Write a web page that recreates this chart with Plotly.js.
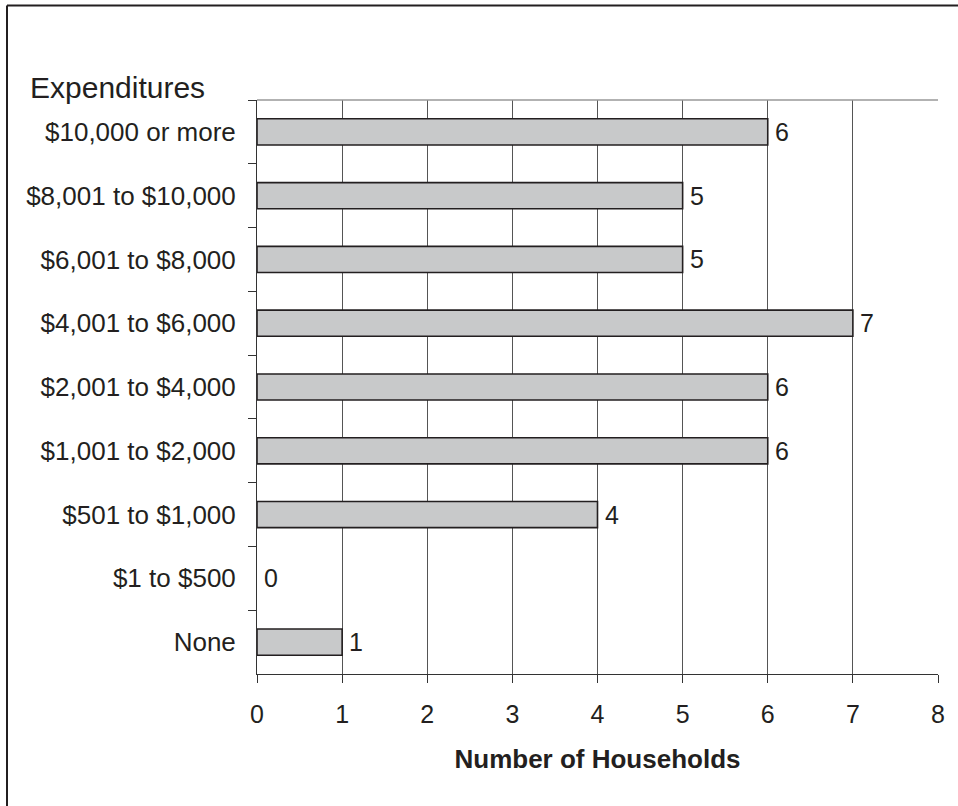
<!DOCTYPE html>
<html>
<head>
<meta charset="utf-8">
<script src="https://cdn.plot.ly/plotly-3.0.1.min.js"></script>
<style>
html,body{margin:0;padding:0;background:#fff;}
#chart{width:958px;height:806px;}
</style>
</head>
<body>
<div id="chart"></div>
<script>
// Data (top to bottom as shown)
const categories = [
  "$10,000 or more",
  "$8,001 to $10,000",
  "$6,001 to $8,000",
  "$4,001 to $6,000",
  "$2,001 to $4,000",
  "$1,001 to $2,000",
  "$501 to $1,000",
  "$1 to $500",
  "None"
];
const households = [6, 5, 5, 7, 6, 6, 4, 0, 1];
const xTickValues = [0, 1, 2, 3, 4, 5, 6, 7, 8];

const W = 958, H = 806;
const M = {l: 257, r: 20, t: 100, b: 132};
const PW = W - M.l - M.r, PH = H - M.t - M.b;
const px = x => (x - M.l) / PW;
const py = y => (H - M.b - y) / PH;

const FONT = "Liberation Sans, Arial, sans-serif";
const INK = "#231f20";

const trace = {
  type: "bar",
  orientation: "h",
  y: categories,
  x: households,
  marker: {color: "#c8c9ca", line: {color: INK, width: households.map(v => v > 0 ? 1.6 : 0)}},
  hoverinfo: "x+y"
};

const valueLabels = categories.map((c, i) => ({
  x: households[i], y: c, xref: "x", yref: "y",
  text: String(households[i]),
  xanchor: "left", yanchor: "middle", xshift: 5,
  showarrow: false,
  font: {family: FONT, size: 25, color: INK}
}));

const layout = {
  width: W, height: H,
  margin: M,
  paper_bgcolor: "#fff",
  plot_bgcolor: "#fff",
  showlegend: false,
  bargap: 0.59,
  font: {family: FONT, size: 25, color: INK},
  xaxis: {
    range: [0, 8],
    tickvals: xTickValues,
    showgrid: true, gridcolor: "#555", gridwidth: 1,
    zeroline: false,
    showline: true, linecolor: "#333", linewidth: 1,
    ticks: "outside", ticklen: 8, tickcolor: "#333",
    tickfont: {family: FONT, size: 25, color: INK},
    ticklabelstandoff: 10,
    title: {text: "<b>Number of Households</b>", font: {family: FONT, size: 26, color: INK}, standoff: 22}
  },
  yaxis: {
    type: "category",
    autorange: "reversed",
    showgrid: false,
    zeroline: false,
    showline: true, linecolor: "#333", linewidth: 1,
    ticks: "outside", ticklen: 8, tickcolor: "#333",
    tickson: "boundaries",
    tickfont: {family: FONT, size: 26, color: INK},
    ticklabelstandoff: 15
  },
  shapes: [
    {type: "line", xref: "paper", yref: "paper", x0: 0, x1: 1, y0: 1, y1: 1, line: {color: "#999", width: 1.5}},
    {type: "line", xref: "paper", yref: "paper", x0: px(7), x1: px(958), y0: py(5.5), y1: py(5.5), line: {color: INK, width: 2}},
    {type: "line", xref: "paper", yref: "paper", x0: px(7), x1: px(7), y0: py(5.5), y1: py(806), line: {color: INK, width: 2}}
  ],
  annotations: valueLabels.concat([{
    xref: "paper", yref: "paper", x: px(28), y: py(87),
    xanchor: "left", yanchor: "middle", showarrow: false,
    text: "Expenditures",
    font: {family: FONT, size: 30, color: INK}
  }])
};

Plotly.newPlot("chart", [trace], layout, {displayModeBar: false, staticPlot: true});
</script>
</body>
</html>
